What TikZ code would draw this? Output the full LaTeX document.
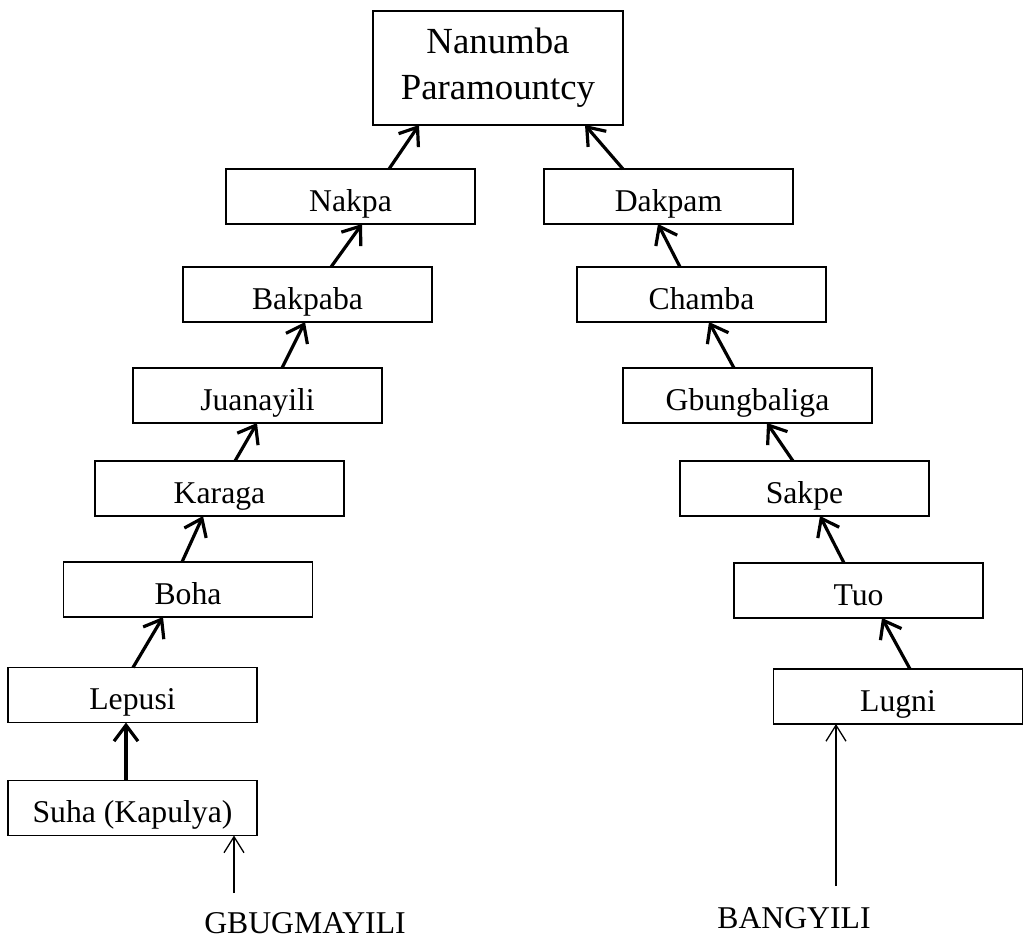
\documentclass[tikz,border=0pt]{standalone}
\usepackage{fontspec}
\setmainfont{Liberation Serif}
\usetikzlibrary{arrows.meta}
\begin{document}
\begin{tikzpicture}[x=1pt,y=-1pt,
  box/.style={draw,line width=1.3pt,minimum width=249pt,minimum height=55pt,inner sep=0pt,outer sep=0pt,
    font=\fontsize{31.7}{38}\selectfont,text height=30pt,text depth=1pt},
  topbox/.style={draw,line width=1.3pt,minimum width=250pt,minimum height=114pt,inner sep=0pt,outer sep=0pt,
    font=\fontsize{36.8}{46}\selectfont,align=center},
  lbl/.style={font=\fontsize{31.7}{38}\selectfont,inner sep=0pt,anchor=base},
  thk/.style={line width=3.2pt,-{Straight Barb[length=16pt,width=24pt]}},
  thn/.style={line width=1.3pt,-{Straight Barb[length=16pt,width=20pt]}}]
\useasboundingbox (0,0) rectangle (1024,939);
\node[topbox] (nanumba) at (498,68) {Nanumba\\Paramountcy};
\node[box] (nakpa) at (350.5,196.5) {Nakpa};
\node[box] (dakpam) at (668.5,196.5) {Dakpam};
\node[box] (bakpaba) at (307.5,294.5) {Bakpaba};
\node[box] (chamba) at (701.5,294.5) {Chamba};
\node[box] (juanayili) at (257.5,395.5) {Juanayili};
\node[box] (gbung) at (747.5,395.5) {Gbungbaliga};
\node[box] (karaga) at (219.5,488.5) {Karaga};
\node[box] (sakpe) at (804.5,488.5) {Sakpe};
\node[box] (boha) at (188,589.5) {Boha};
\node[box] (tuo) at (858.5,590.5) {Tuo};
\node[box] (lepusi) at (132.5,695) {Lepusi};
\node[box] (lugni) at (898,696.5) {Lugni};
\node[box] (suha) at (132.5,808) {Suha (Kapulya)};
\node[lbl] (gbugtext) at (305,933) {GBUGMAYILI};
\node[lbl] (bangtext) at (794,928) {BANGYILI};
\coordinate (gb) at (234,893);
\coordinate (bg) at (836,886);
\draw[thk] ([xshift=38.5]nakpa.north) -- ([xshift=-79]nanumba.south);
\draw[thk] ([xshift=-45.5]dakpam.north) -- ([xshift=87]nanumba.south);
\draw[thk] ([xshift=23.5]bakpaba.north) -- ([xshift=11.5]nakpa.south);
\draw[thk] ([xshift=24.5]juanayili.north) -- ([xshift=-2.5]bakpaba.south);
\draw[thk] ([xshift=15.5]karaga.north) -- ([xshift=-0.5]juanayili.south);
\draw[thk] ([xshift=-6]boha.north) -- ([xshift=-16.5]karaga.south);
\draw[thk] ([xshift=0.5]lepusi.north) -- ([xshift=-25]boha.south);
\draw[thk] ([xshift=-6.5]suha.north) -- ([xshift=-6.5]lepusi.south);
\draw[thk] ([xshift=-21.5]chamba.north) -- ([xshift=-10.5]dakpam.south);
\draw[thk] ([xshift=-13.5]gbung.north) -- ([xshift=7.5]chamba.south);
\draw[thk] ([xshift=-11.5]sakpe.north) -- ([xshift=19.5]gbung.south);
\draw[thk] ([xshift=-14.5]tuo.north) -- ([xshift=15.5]sakpe.south);
\draw[thk] ([xshift=12]lugni.north) -- ([xshift=23.5]tuo.south);
\draw[thn] (gb) -- ([xshift=101.5]suha.south);
\draw[thn] (bg) -- ([xshift=-62]lugni.south);
\end{tikzpicture}
\end{document}
